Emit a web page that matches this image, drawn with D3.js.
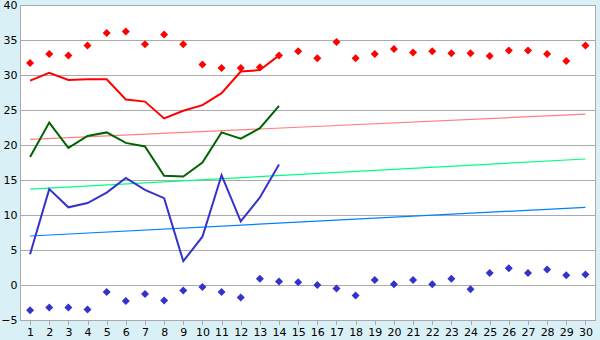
<!DOCTYPE html>
<html>
<head>
<meta charset="utf-8">
<script src="https://cdn.jsdelivr.net/npm/d3@7"></script>
<style>
  body { margin: 0; background: #d9f0f6; }
  svg { display: block; }
  text { font-family: "DejaVu Sans", Verdana, sans-serif; font-size: 11px; fill: #000; }
</style>
</head>
<body>
<div id="chart"></div>
<script>
const days = d3.range(1, 31)
const y_ticks = [-5, 0, 5, 10, 15, 20, 25, 30, 35, 40]

// daily max / mean / min for the first 14 days
const max_temp = [29.2, 30.3, 29.3, 29.4, 29.4, 26.5, 26.2, 23.8, 24.9, 25.7, 27.4, 30.5, 30.7, 32.8]
const mean_temp = [18.3, 23.2, 19.6, 21.3, 21.8, 20.3, 19.8, 15.6, 15.5, 17.5, 21.8, 20.9, 22.4, 25.6]
const min_temp = [4.4, 13.7, 11.1, 11.7, 13.2, 15.3, 13.6, 12.4, 3.4, 6.9, 15.7, 9.1, 12.5, 17.2]

// record high / low per day
const record_high = [31.7, 33.0, 32.8, 34.2, 36.0, 36.2, 34.4, 35.8, 34.4, 31.5,
                     31.0, 31.0, 31.1, 32.8, 33.4, 32.4, 34.7, 32.4, 33.0, 33.7,
                     33.2, 33.4, 33.1, 33.1, 32.7, 33.5, 33.5, 33.0, 32.0, 34.2]
const record_low = [-3.6, -3.2, -3.2, -3.5, -1.0, -2.3, -1.3, -2.2, -0.8, -0.3,
                    -1.0, -1.8, 0.9, 0.5, 0.4, 0.0, -0.5, -1.5, 0.7, 0.1,
                    0.7, 0.1, 0.9, -0.6, 1.7, 2.4, 1.7, 2.2, 1.4, 1.5]

// normals (start / end of month)
const normal_max = [20.8, 24.4]
const normal_mean = [13.7, 18.0]
const normal_min = [7.0, 11.1]

const width = 600
const height = 340
const plot_left = 20.5
const plot_right = 595
const plot_top = 5
const plot_bottom = 320

var svg = d3.select("#chart").append("svg")
    .attr("width", width)
    .attr("height", height)

var x = d3.scalePoint().domain(days).range([plot_left, plot_right]).padding(0.5)
var y = d3.scaleLinear().domain([-5, 40]).range([plot_bottom, plot_top])

// plot area
svg.append("rect")
    .attr("x", plot_left).attr("y", plot_top)
    .attr("width", plot_right - plot_left).attr("height", plot_bottom - plot_top)
    .attr("fill", "white")

// horizontal grid + y labels
var y_axis = d3.axisLeft(y).tickValues(y_ticks).tickSize(-(plot_right - plot_left) - 3).tickPadding(3).tickFormat(d3.format("d"))
var gy = svg.append("g").attr("transform", "translate(" + (plot_left + 3) + ",0)").call(y_axis)
gy.select(".domain").remove()
gy.selectAll("line").attr("x1", -3).attr("x2", plot_right - plot_left - 3)
    .attr("stroke", "#aaaaaa").attr("shape-rendering", "crispEdges")
gy.selectAll("text").attr("x", -6).attr("dy", "0.35em")

// x axis
var x_axis = d3.axisBottom(x).tickSize(5).tickPadding(3)
var gx = svg.append("g").attr("transform", "translate(0," + plot_bottom + ")").call(x_axis)
gx.select(".domain").remove()
gx.selectAll("line").attr("stroke", "#aaaaaa").attr("shape-rendering", "crispEdges")

// frame (left, bottom, right)
svg.append("path")
    .attr("d", "M" + plot_left + "," + plot_top + "V" + plot_bottom + "H" + plot_right + "V" + plot_top)
    .attr("fill", "none")
    .attr("stroke", "#aaaaaa")
    .attr("shape-rendering", "crispEdges")

// normal trend lines
function trend(vals, color) {
    svg.append("line")
        .attr("x1", x(days[0])).attr("y1", y(vals[0]))
        .attr("x2", x(days[days.length - 1])).attr("y2", y(vals[1]))
        .attr("stroke", color)
        .attr("stroke-width", 1.2)
}
trend(normal_max, "#ff8080")
trend(normal_mean, "#00ff80")
trend(normal_min, "#0080ff")

// daily lines
var line = d3.line().x(function (d, i) { return x(days[i]) }).y(function (d) { return y(d) })
function draw_line(vals, color) {
    svg.append("path")
        .datum(vals)
        .attr("d", line)
        .attr("fill", "none")
        .attr("stroke", color)
        .attr("stroke-width", 2)
}
draw_line(max_temp, "#ff0000")
draw_line(mean_temp, "#006400")
draw_line(min_temp, "#3333cc")

// record markers
function markers(vals, color) {
    svg.append("g").selectAll("path")
        .data(vals)
        .enter()
        .append("path")
        .attr("d", "M0,-4L4,0L0,4L-4,0Z")
        .attr("transform", function (d, i) { return "translate(" + x(days[i]) + "," + y(d) + ")" })
        .attr("fill", color)
}
markers(record_high, "#ff0000")
markers(record_low, "#3333cc")
</script>
</body>
</html>
